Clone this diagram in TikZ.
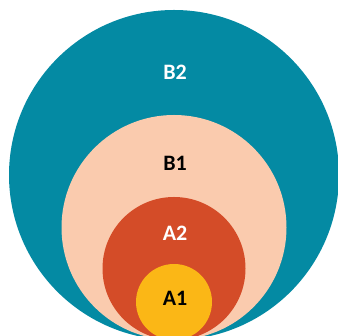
\documentclass[tikz,border=0pt]{standalone}
\usepackage{fontspec}
\setmainfont{Carlito}
\definecolor{tealB}{RGB}{4,138,163}
\definecolor{peachB}{RGB}{250,203,174}
\definecolor{redA}{RGB}{212,76,40}
\definecolor{yellowA}{RGB}{251,183,22}
\tikzset{
  ring/.style = {circle, inner sep=0pt, draw=none},
  tag/.style = {font=\fontsize{22}{24}\selectfont\bfseries}
}
\begin{document}
\begin{tikzpicture}[x=1pt, y=1pt]
  \useasboundingbox (0, 0) rectangle (338, 336);
  \clip (0, 0) rectangle (338, 336);
  \node [ring, fill=tealB, minimum size=330pt] (BB) at (174, 161) {};
  \node [ring, fill=peachB, minimum size=225pt] (BA) at (174, 108.5) {};
  \node [ring, fill=redA, minimum size=143pt] (AB) at (174, 67.5) {};
  \node [ring, fill=yellowA, minimum size=76pt] (AA) at (174, 34) {};
  \node [tag, text=white] (LBB) at (175, 264) {B2};
  \node [tag, text=black] (LBA) at (175, 173) {B1};
  \node [tag, text=white] (LAB) at (175, 103) {A2};
  \node [tag, text=black] (LAA) at (175, 38) {A1};
\end{tikzpicture}
\end{document}
